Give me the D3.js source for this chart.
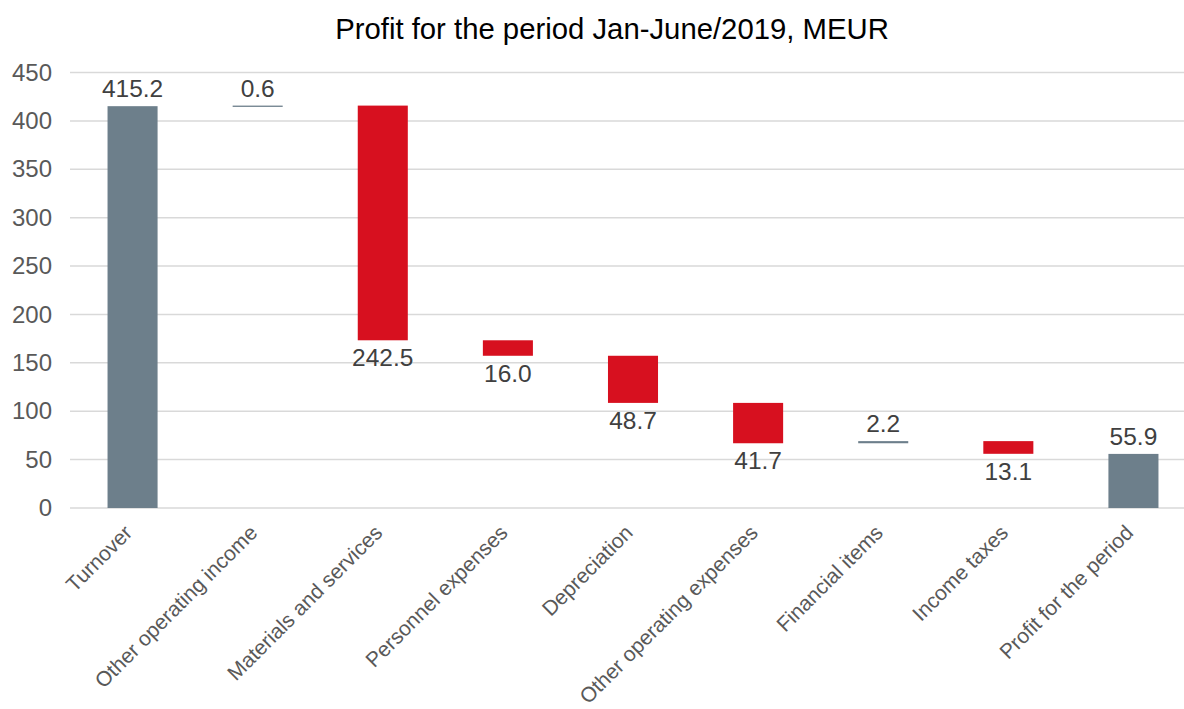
<!DOCTYPE html>
<html>
<head>
<meta charset="utf-8">
<script src="https://cdn.jsdelivr.net/npm/d3@7"></script>
<style>
  html, body { margin: 0; padding: 0; background: #fff; }
  svg { display: block; font-family: "Liberation Sans", Arial, sans-serif; }
</style>
</head>
<body>
<svg id="chart" width="1184" height="709"></svg>
<script>
// ---- data ----
const title = "Profit for the period Jan-June/2019, MEUR";
const categories = ["Turnover", "Other operating income", "Materials and services",
  "Personnel expenses", "Depreciation", "Other operating expenses", "Financial items",
  "Income taxes", "Profit for the period"];
const values = [415.2, 0.6, -242.5, -16.0, -48.7, -41.7, 2.2, -13.1, 55.9];
const valueLabels = ["415.2", "0.6", "242.5", "16.0", "48.7", "41.7", "2.2", "13.1", "55.9"];
const kinds = ["total", "delta", "delta", "delta", "delta", "delta", "delta", "delta", "total"];
const yTicks = [0, 50, 100, 150, 200, 250, 300, 350, 400, 450];

// ---- build waterfall segments ----
let running = 0;
const rows = categories.map((c, i) => {
  let y0, y1;
  if (kinds[i] === "total") { y0 = 0; y1 = values[i]; running = values[i]; }
  else { y0 = running; y1 = running + values[i]; running = y1; }
  return { cat: c, v: values[i], label: valueLabels[i], kind: kinds[i], lo: Math.min(y0, y1), hi: Math.max(y0, y1) };
});

const svg = d3.select("#chart");
const x = d3.scaleBand().domain(categories).range([70, 1196]).paddingInner(0.6).paddingOuter(0.3);
const y = d3.scaleLinear().domain([0, 450]).range([508, 72.5]);

// title
svg.append("text").attr("x", 612).attr("y", 39).attr("text-anchor", "middle")
  .attr("font-size", 29.3).attr("fill", "#000").text(title);

// gridlines
svg.append("g").selectAll("line").data(yTicks).join("line")
  .attr("x1", 70).attr("x2", 1184)
  .attr("y1", d => y(d)).attr("y2", d => y(d))
  .attr("stroke", "#d9d9d9").attr("stroke-width", 1.5);

// y axis labels
const yAxis = d3.axisLeft(y).tickValues(yTicks).tickSize(0).tickPadding(0);
const gy = svg.append("g").attr("transform", "translate(52,0)").call(yAxis);
gy.select(".domain").remove();
gy.selectAll("text").attr("font-size", 24).attr("fill", "#595959")
  .attr("font-family", "Liberation Sans, Arial, sans-serif");

// bars
const color = d => d.kind === "total" ? "#6d7f8b" : (d.v < 0 ? "#d7101f" : "#6d7f8b");
svg.append("g").selectAll("rect").data(rows).join("rect")
  .attr("x", d => x(d.cat))
  .attr("width", x.bandwidth())
  .attr("y", d => y(d.hi))
  .attr("height", d => Math.max(1.3, y(d.lo) - y(d.hi)))
  .attr("fill", color);

// value labels
svg.append("g").selectAll("text").data(rows).join("text")
  .attr("x", d => x(d.cat) + x.bandwidth() / 2)
  .attr("y", d => d.v >= 0 ? y(d.hi) - 9 : y(d.lo) + 26)
  .attr("text-anchor", "middle")
  .attr("font-size", 24.5).attr("fill", "#404040")
  .text(d => d.label);

// category labels
const xAxis = d3.axisBottom(x).tickSize(0).tickPadding(0);
const gx = svg.append("g").attr("transform", "translate(0,508)").call(xAxis);
gx.select(".domain").remove();
gx.selectAll("text")
  .attr("font-size", 21).attr("fill", "#595959")
  .attr("font-family", "Liberation Sans, Arial, sans-serif")
  .attr("text-anchor", "end")
  .attr("dy", 0)
  .attr("y", 0)
  .attr("transform", "translate(1,26) rotate(-45)");
</script>
</body>
</html>
